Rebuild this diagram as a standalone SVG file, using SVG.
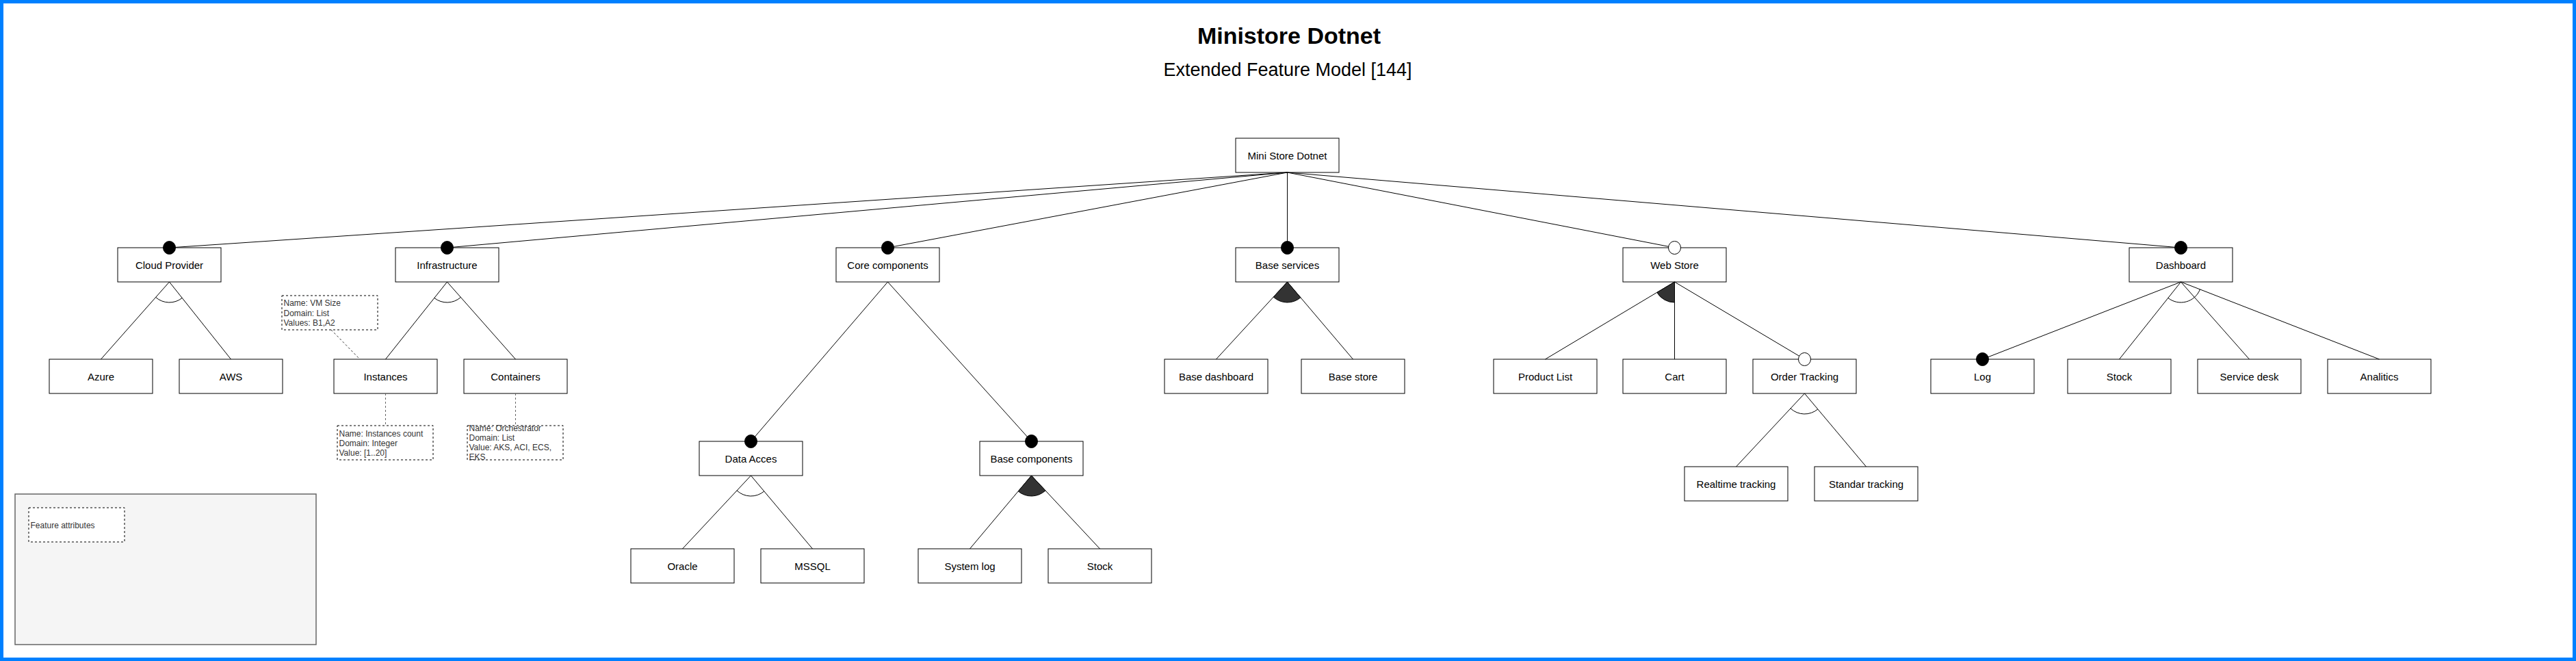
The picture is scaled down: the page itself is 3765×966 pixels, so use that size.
<svg xmlns="http://www.w3.org/2000/svg" width="3765" height="966" viewBox="0 0 3765 966">
<style>
.bg{fill:#ffffff;stroke:#0080ff;stroke-width:10}
.box{fill:#ffffff;stroke:#000000;stroke-width:1}
.lbl{font-family:"Liberation Sans",Arial,sans-serif;font-size:15px;fill:#000000;text-anchor:middle}
.attr{fill:#ffffff;stroke:#000000;stroke-width:1;stroke-dasharray:3 3}
.atxt{font-family:"Liberation Sans",Arial,sans-serif;font-size:12px;fill:#333333}
.legend{fill:#f5f5f5;stroke:#666666;stroke-width:1.5}
.edge{stroke:#000000;stroke-width:1;fill:none}
.dash{stroke:#666666;stroke-width:1;stroke-dasharray:3 3;fill:none}
.dash2{stroke:#333333;stroke-width:1;stroke-dasharray:3 3;fill:none}
.m{marker-end:url(#mand)}
.o{marker-end:url(#opt)}
.alt{fill:none;stroke:#000000;stroke-width:1}
.or{fill:#333333;stroke:#000000;stroke-width:1}
.title{font-family:"Liberation Sans",Arial,sans-serif;font-weight:bold;font-size:34px;fill:#000000;text-anchor:middle}
.sub{font-family:"Liberation Sans",Arial,sans-serif;font-size:27px;fill:#000000;text-anchor:middle}
</style>
<defs>
<marker id="mand" markerUnits="userSpaceOnUse" markerWidth="24" markerHeight="24" refX="12" refY="12" orient="0" overflow="visible"><ellipse cx="12" cy="12" rx="9" ry="9.5" fill="#000000" stroke="#000000" stroke-width="1"/></marker>
<marker id="opt" markerUnits="userSpaceOnUse" markerWidth="24" markerHeight="24" refX="12" refY="12" orient="0" overflow="visible"><ellipse cx="12" cy="12" rx="9" ry="9.5" fill="#ffffff" stroke="#000000" stroke-width="1"/></marker>
</defs>
<rect class="bg" x="0" y="0" width="3765" height="966"/>
<g id="title">
<text class="title" x="1884" y="64">Ministore Dotnet</text>
<text class="sub" x="1882" y="111">Extended Feature Model [144]</text>
</g>
<g id="legend">
<rect class="legend" x="22" y="722" width="440" height="220"/>
<rect class="attr" x="42" y="742" width="140" height="50"/>
<text class="atxt" x="44.5" y="771.5">Feature attributes</text>
</g>
<g id="n-root"><rect class="box" x="1806" y="202" width="151" height="50"/><text class="lbl" x="1881.5" y="233">Mini Store Dotnet</text></g>
<g id="n-cloud"><rect class="box" x="172" y="362" width="151" height="50"/><text class="lbl" x="247.5" y="393">Cloud Provider</text></g>
<g id="n-infra"><rect class="box" x="578" y="362" width="151" height="50"/><text class="lbl" x="653.5" y="393">Infrastructure</text></g>
<g id="n-core"><rect class="box" x="1222" y="362" width="151" height="50"/><text class="lbl" x="1297.5" y="393">Core components</text></g>
<g id="n-baseserv"><rect class="box" x="1806" y="362" width="151" height="50"/><text class="lbl" x="1881.5" y="393">Base services</text></g>
<g id="n-webstore"><rect class="box" x="2372" y="362" width="151" height="50"/><text class="lbl" x="2447.5" y="393">Web Store</text></g>
<g id="n-dashboard"><rect class="box" x="3112" y="362" width="151" height="50"/><text class="lbl" x="3187.5" y="393">Dashboard</text></g>
<g id="n-azure"><rect class="box" x="72" y="525" width="151" height="50"/><text class="lbl" x="147.5" y="556">Azure</text></g>
<g id="n-aws"><rect class="box" x="262" y="525" width="151" height="50"/><text class="lbl" x="337.5" y="556">AWS</text></g>
<g id="n-instances"><rect class="box" x="488" y="525" width="151" height="50"/><text class="lbl" x="563.5" y="556">Instances</text></g>
<g id="n-containers"><rect class="box" x="678" y="525" width="151" height="50"/><text class="lbl" x="753.5" y="556">Containers</text></g>
<g id="n-basedash"><rect class="box" x="1702" y="525" width="151" height="50"/><text class="lbl" x="1777.5" y="556">Base dashboard</text></g>
<g id="n-basestore"><rect class="box" x="1902" y="525" width="151" height="50"/><text class="lbl" x="1977.5" y="556">Base store</text></g>
<g id="n-productlist"><rect class="box" x="2183" y="525" width="151" height="50"/><text class="lbl" x="2258.5" y="556">Product List</text></g>
<g id="n-cart"><rect class="box" x="2372" y="525" width="151" height="50"/><text class="lbl" x="2447.5" y="556">Cart</text></g>
<g id="n-ordertracking"><rect class="box" x="2562" y="525" width="151" height="50"/><text class="lbl" x="2637.5" y="556">Order Tracking</text></g>
<g id="n-log"><rect class="box" x="2822" y="525" width="151" height="50"/><text class="lbl" x="2897.5" y="556">Log</text></g>
<g id="n-stock2"><rect class="box" x="3022" y="525" width="151" height="50"/><text class="lbl" x="3097.5" y="556">Stock</text></g>
<g id="n-servicedesk"><rect class="box" x="3212" y="525" width="151" height="50"/><text class="lbl" x="3287.5" y="556">Service desk</text></g>
<g id="n-analitics"><rect class="box" x="3402" y="525" width="151" height="50"/><text class="lbl" x="3477.5" y="556">Analitics</text></g>
<g id="n-dataacces"><rect class="box" x="1022" y="645" width="151" height="50"/><text class="lbl" x="1097.5" y="676">Data Acces</text></g>
<g id="n-basecomp"><rect class="box" x="1432" y="645" width="151" height="50"/><text class="lbl" x="1507.5" y="676">Base components</text></g>
<g id="n-realtime"><rect class="box" x="2462" y="682" width="151" height="50"/><text class="lbl" x="2537.5" y="713">Realtime tracking</text></g>
<g id="n-standar"><rect class="box" x="2652" y="682" width="151" height="50"/><text class="lbl" x="2727.5" y="713">Standar tracking</text></g>
<g id="n-oracle"><rect class="box" x="922" y="802" width="151" height="50"/><text class="lbl" x="997.5" y="833">Oracle</text></g>
<g id="n-mssql"><rect class="box" x="1112" y="802" width="151" height="50"/><text class="lbl" x="1187.5" y="833">MSSQL</text></g>
<g id="n-syslog"><rect class="box" x="1342" y="802" width="151" height="50"/><text class="lbl" x="1417.5" y="833">System log</text></g>
<g id="n-stock1"><rect class="box" x="1532" y="802" width="151" height="50"/><text class="lbl" x="1607.5" y="833">Stock</text></g>
<g id="a-vmsize"><rect class="attr" x="412" y="432" width="140" height="50"/><text class="atxt" x="414.5" y="447">Name: VM Size</text><text class="atxt" x="414.5" y="461.5">Domain: List</text><text class="atxt" x="414.5" y="475.5">Values: B1,A2</text></g>
<g id="a-instcount"><rect class="attr" x="493" y="622" width="140" height="50"/><text class="atxt" x="495.5" y="637.5">Name: Instances count</text><text class="atxt" x="495.5" y="651.5">Domain: Integer</text><text class="atxt" x="495.5" y="665.5">Value: [1..20]</text></g>
<g id="a-orch"><rect class="attr" x="683" y="622" width="140" height="50"/><text class="atxt" x="685.5" y="630">Name: Orchestrator</text><text class="atxt" x="685.5" y="644">Domain: List</text><text class="atxt" x="685.5" y="658">Value: AKS, ACI, ECS,</text><text class="atxt" x="685.5" y="672">EKS</text></g>
<g id="connectors">
<path class="edge m" d="M1881.5 252 L247.5 362"/>
<path class="edge m" d="M1881.5 252 L653.5 362"/>
<path class="edge m" d="M1881.5 252 L1297.5 362"/>
<path class="edge m" d="M1881.5 252 L1881.5 362"/>
<path class="edge o" d="M1881.5 252 L2447.5 362"/>
<path class="edge m" d="M1881.5 252 L3187.5 362"/>
<path class="edge" d="M247.5 412 L147.5 525"/>
<path class="edge" d="M247.5 412 L337.5 525"/>
<path class="edge" d="M653.5 412 L563.5 525"/>
<path class="edge" d="M653.5 412 L753.5 525"/>
<path class="edge m" d="M1297.5 412 L1097.5 645"/>
<path class="edge m" d="M1297.5 412 L1507.5 645"/>
<path class="edge" d="M1097.5 695 L997.5 802"/>
<path class="edge" d="M1097.5 695 L1187.5 802"/>
<path class="edge" d="M1507.5 695 L1417.5 802"/>
<path class="edge" d="M1507.5 695 L1607.5 802"/>
<path class="edge" d="M1881.5 412 L1777.5 525"/>
<path class="edge" d="M1881.5 412 L1977.5 525"/>
<path class="edge" d="M2447.5 412 L2258.5 525"/>
<path class="edge" d="M2447.5 412 L2447.5 525"/>
<path class="edge o" d="M2447.5 412 L2637.5 525"/>
<path class="edge" d="M2637.5 575 L2537.5 682"/>
<path class="edge" d="M2637.5 575 L2727.5 682"/>
<path class="edge m" d="M3187.5 412 L2897.5 525"/>
<path class="edge" d="M3187.5 412 L3097.5 525"/>
<path class="edge" d="M3187.5 412 L3287.5 525"/>
<path class="edge" d="M3187.5 412 L3477.5 525"/>
<path class="dash2" d="M484 482 L526 525"/>
<path class="dash" d="M563.5 575 L563.5 622"/>
<path class="dash" d="M753.5 575 L753.5 622"/>
<path class="alt" d="M227.62 434.47 A30 30 0 0 0 266.19 435.47"/>
<path class="alt" d="M634.81 435.47 A30 30 0 0 0 673.38 434.47"/>
<path class="alt" d="M1077.02 716.92 A30 30 0 0 0 1116.81 717.96"/>
<path class="alt" d="M2617.02 596.92 A30 30 0 0 0 2656.81 597.96"/>
<path class="alt" d="M3168.81 435.47 A30 30 0 0 0 3215.45 422.89"/>
<path class="or" d="M1881.5 412 L1861.18 434.07 A30 30 0 0 0 1900.92 434.86 Z"/>
<path class="or" d="M1507.5 695 L1488.19 717.96 A30 30 0 0 0 1527.98 716.92 Z"/>
<path class="or" d="M2447.5 412 L2421.75 427.4 A30 30 0 0 0 2447.5 442 Z"/>
</g>
</svg>
